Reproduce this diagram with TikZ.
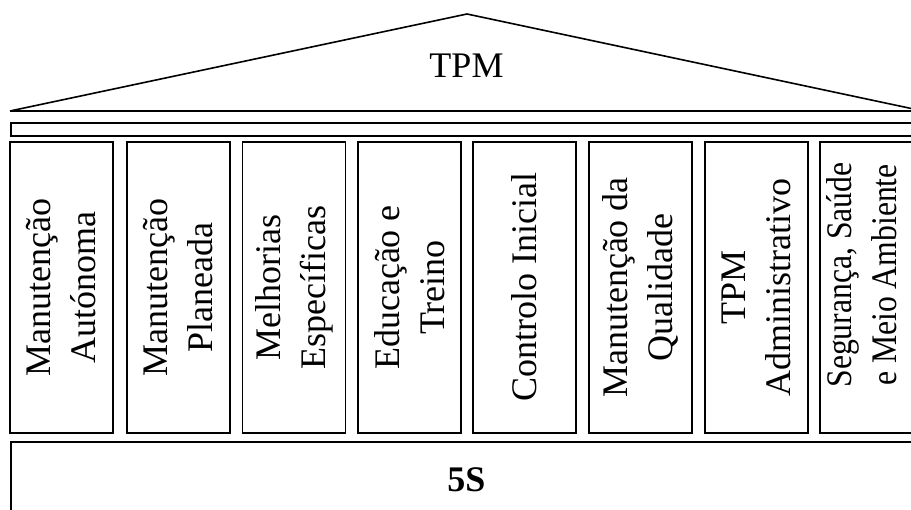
\documentclass[tikz,border=0pt]{standalone}
\usepackage{fontspec}
\setmainfont{Liberation Serif}
\newfontfamily\narrowserif[FakeStretch=0.88]{Liberation Serif}
\begin{document}
\begin{tikzpicture}[x=1pt,y=-1pt,
  outline/.style={draw=black,line width=1.8pt},
  pillar/.style={outline,rotate=90,minimum width=291pt,minimum height=103pt,
    inner sep=0pt,align=center,font=\fontsize{36}{45}\selectfont},
  label/.style={font=\fontsize{36}{45}\selectfont,inner sep=0pt},
]
\useasboundingbox (0,0) rectangle (911,510);
\fill[white] (0,0) rectangle (911,510);
\clip (0,0) rectangle (911,510);

% roof: two slopes meeting at the ridge, closed by the eaves line
\coordinate (roofL) at (10,111);
\coordinate (roofT) at (467,14);
\coordinate (roofR) at (923,111);
\draw[outline,line width=1.6pt,line join=miter] (roofL) -- (roofT) -- (roofR);
\draw[outline,line width=1.6pt] (roofL) -- (roofR);
\node[label] (tpm) at (466.5,66) {TPM};

% beam under the roof
\node[outline,minimum width=913pt,minimum height=13pt,inner sep=0pt,anchor=north west] (beam) at (10,122) {};

% pillars
\node[pillar] (p1) at (61.5,287.5) {Manutenção\\Autónoma};
\node[pillar] (p2) at (178.5,287.5) {Manutenção\\Planeada};
\node[pillar] (p3) at (294,287.5) {Melhorias\\Específicas};
\node[pillar] (p4) at (409.5,287.5) {Educação e\\Treino};
\node[pillar] (p5) at (524.5,287.5) {Controlo Inicial};
\node[pillar] (p6) at (640.5,287.5) {Manutenção da\\Qualidade};
\node[pillar] (p7) at (756.5,287.5) {TPM\\Administrativo};
\node[pillar] (p8) at (871.5,287.5) {};
\node[label,rotate=90,align=center,font=\narrowserif\fontsize{36}{45}\selectfont] (p8text) at (862,275) {Segurança, Saúde\\e Meio Ambiente};

% foundation
\node[outline,minimum width=913pt,minimum height=90pt,inner sep=0pt,anchor=north west] (base) at (10,441) {};
\node[label,font=\bfseries\fontsize{36}{45}\selectfont] (fives) at (466.5,480) {5S};
\end{tikzpicture}
\end{document}
